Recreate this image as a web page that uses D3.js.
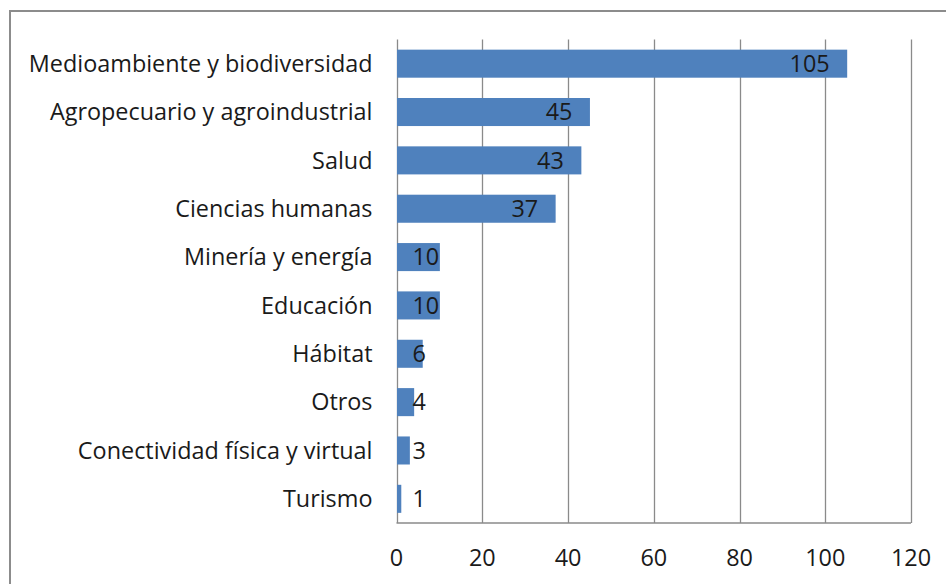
<!DOCTYPE html>
<html>
<head>
<meta charset="utf-8">
<script src="https://cdn.jsdelivr.net/npm/d3@7"></script>
<style>
  body { margin: 0; background: #fff; }
  text { font-family: "Open Sans", "Liberation Sans", Arial, sans-serif; }
</style>
</head>
<body>
<div id="vis"></div>
<script>
// data
const categories = [
  "Medioambiente y biodiversidad",
  "Agropecuario y agroindustrial",
  "Salud",
  "Ciencias humanas",
  "Minería y energía",
  "Educación",
  "Hábitat",
  "Otros",
  "Conectividad física y virtual",
  "Turismo"
];
const values = [105, 45, 43, 37, 10, 10, 6, 4, 3, 1];
const xTicks = [0, 20, 40, 60, 80, 100, 120];

const W = 946, H = 584;
const plotL = 396.5, plotR = 911, plotT = 39.5, plotB = 523;
const fontSize = 23.4;

const svg = d3.select("#vis").append("svg")
  .attr("width", W)
  .attr("height", H);

// outer chart frame (runs off the right/bottom edge)
svg.append("rect")
  .attr("x", 10).attr("y", 11)
  .attr("width", 1000).attr("height", 1000)
  .attr("fill", "none")
  .attr("stroke", "#8c8c8c")
  .attr("stroke-width", 2);

const x = d3.scaleLinear().domain([0, 120]).range([plotL, plotR]);
const y = d3.scaleBand().domain(categories).range([plotT, plotB]).paddingInner(0.42).paddingOuter(0.21);

// gridlines
svg.append("g")
  .selectAll("line")
  .data(xTicks)
  .enter()
  .append("line")
    .attr("x1", d => Math.round(x(d)) + 0.5)
    .attr("x2", d => Math.round(x(d)) + 0.5)
    .attr("y1", plotT)
    .attr("y2", plotB)
    .attr("stroke", "#8a8a8a")
    .attr("stroke-width", 1.3);

// bottom axis line
svg.append("line")
  .attr("x1", plotL).attr("x2", plotR)
  .attr("y1", plotB).attr("y2", plotB)
  .attr("stroke", "#8a8a8a")
  .attr("stroke-width", 1.5);

// bars
svg.append("g")
  .selectAll("rect")
  .data(values)
  .enter()
  .append("rect")
    .attr("x", x(0) + 0.5)
    .attr("y", (d, i) => y(categories[i]))
    .attr("width", d => x(d) - x(0))
    .attr("height", y.bandwidth())
    .attr("fill", "#4f81bd");

// category labels
svg.append("g")
  .selectAll("text")
  .data(categories)
  .enter()
  .append("text")
    .attr("x", plotL - 24)
    .attr("y", d => y(d) + y.bandwidth() / 2)
    .attr("dy", "0.35em")
    .attr("text-anchor", "end")
    .attr("font-size", fontSize)
    .attr("fill", "#1a1a1a")
    .text(d => d);

// value labels (inside end, pushed right when bar is short)
svg.append("g")
  .selectAll("text")
  .data(values)
  .enter()
  .append("text")
    .attr("y", (d, i) => y(categories[i]) + y.bandwidth() / 2)
    .attr("dy", "0.35em")
    .attr("text-anchor", "end")
    .attr("font-size", fontSize)
    .attr("fill", "#1a1a1a")
    .text(d => d)
    .attr("x", function(d) {
      const w = this.getComputedTextLength();
      return Math.max(x(d) - 17, x(0) + 16 + w);
    });

// x tick labels
svg.append("g")
  .selectAll("text")
  .data(xTicks)
  .enter()
  .append("text")
    .attr("x", d => x(d))
    .attr("y", 558)
    .attr("dy", "0.35em")
    .attr("text-anchor", "middle")
    .attr("font-size", fontSize)
    .attr("fill", "#1a1a1a")
    .text(d => d);
</script>
</body>
</html>
